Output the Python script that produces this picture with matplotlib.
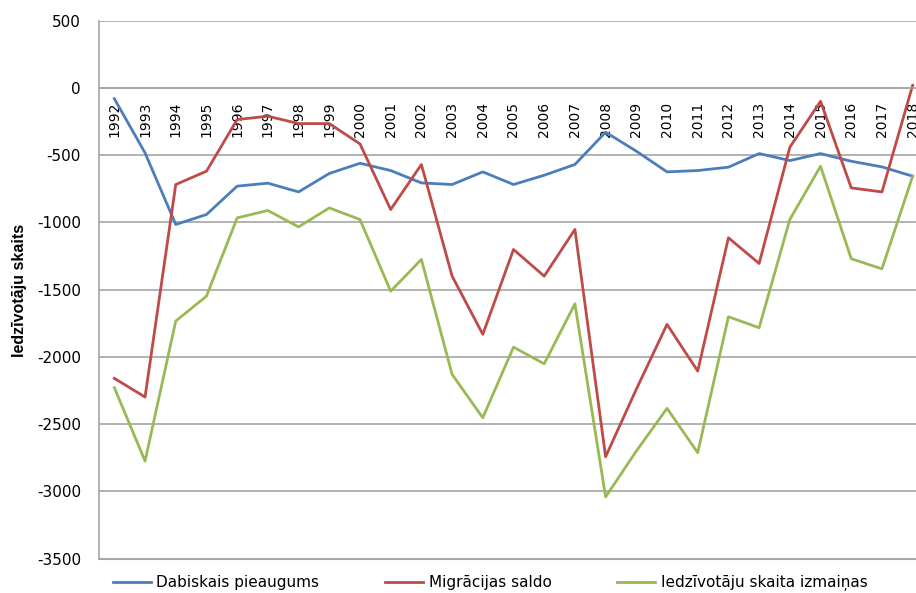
import matplotlib
matplotlib.use("Agg")
import matplotlib.pyplot as plt

years = [str(y) for y in range(1992, 2019)]
dabiskais = [-80, -483, -1015, -941, -730, -708, -773, -636, -560, -614, -706, -718,
             -624, -718, -649, -569, -329, -470, -624, -614, -589, -488, -540, -488,
             -545, -587, -656]
migracija = [-2159, -2298, -718, -619, -235, -210, -265, -265, -416, -904, -569, -1399,
             -1832, -1201, -1399, -1052, -2742, -2240, -1758, -2105, -1114, -1305, -441, -99,
             -743, -773, 20]
izmainas = [-2229, -2774, -1733, -1548, -966, -911, -1033, -892, -978, -1511, -1275, -2130,
            -2452, -1927, -2051, -1605, -3041, -2700, -2382, -2712, -1701, -1783, -978, -582,
            -1270, -1345, -656]
series_names = ["Dabiskais pieaugums", "Migrācijas saldo", "Iedzīvotāju skaita izmaiņas"]
y_ticks = list(range(-3500, 501, 500))

plt.rcParams['axes.unicode_minus'] = False
plt.rcParams['font.family'] = ['DejaVu Sans']

fig = plt.figure(figsize=(9.16, 5.93), dpi=100)
ax = fig.add_axes([99/916, 34.3/593, 829/916, 538/593])

# category axis crosses at 0
ax.spines['bottom'].set_position(('data', 0))
ax.spines['bottom'].set_color("#A6A6A6")
ax.spines['bottom'].set_linewidth(1.2)
ax.spines['top'].set_visible(False)
ax.spines['right'].set_visible(False)
ax.spines['left'].set_color("#A6A6A6")
ax.spines['left'].set_linewidth(1.2)

x = list(range(len(years)))
colors = ["#4A7EBB", "#BE4B48", "#98B954"]
for vals, name, c in zip([dabiskais, migracija, izmainas], series_names, colors):
    ax.plot(x, vals, color=c, lw=2.0, label=name)

ax.set_xlim(-0.5, len(years) - 0.5)
ax.set_ylim(-3500, 500)
ax.set_yticks(y_ticks)
ax.set_yticklabels([str(v) for v in y_ticks], fontsize=11)
ax.yaxis.grid(True, color="#A6A6A6", lw=1.2)
ax.set_axisbelow(True)
ax.tick_params(axis='y', length=0, pad=13)

ax.set_xticks(x)
ax.set_xticklabels(years, rotation=90, fontsize=10)
ax.tick_params(axis='x', length=0, pad=10)
ax.axhline(-3500, color="#A6A6A6", lw=1.5, clip_on=False)

fig.text(20/916, 1 - 290/593, "Iedzīvotāju skaits", rotation=90, ha='center', va='center',
         fontsize=11.5, fontweight='bold', family=['Liberation Sans', 'DejaVu Sans'])

fig.legend(loc='center', bbox_to_anchor=(0.535, 10/593), ncol=3, frameon=False,
           handlelength=2.5, handletextpad=0.35, columnspacing=4.3,
           prop={'family': ['DejaVu Sans'], 'size': 11})

fig.savefig("out.png", dpi=100)
